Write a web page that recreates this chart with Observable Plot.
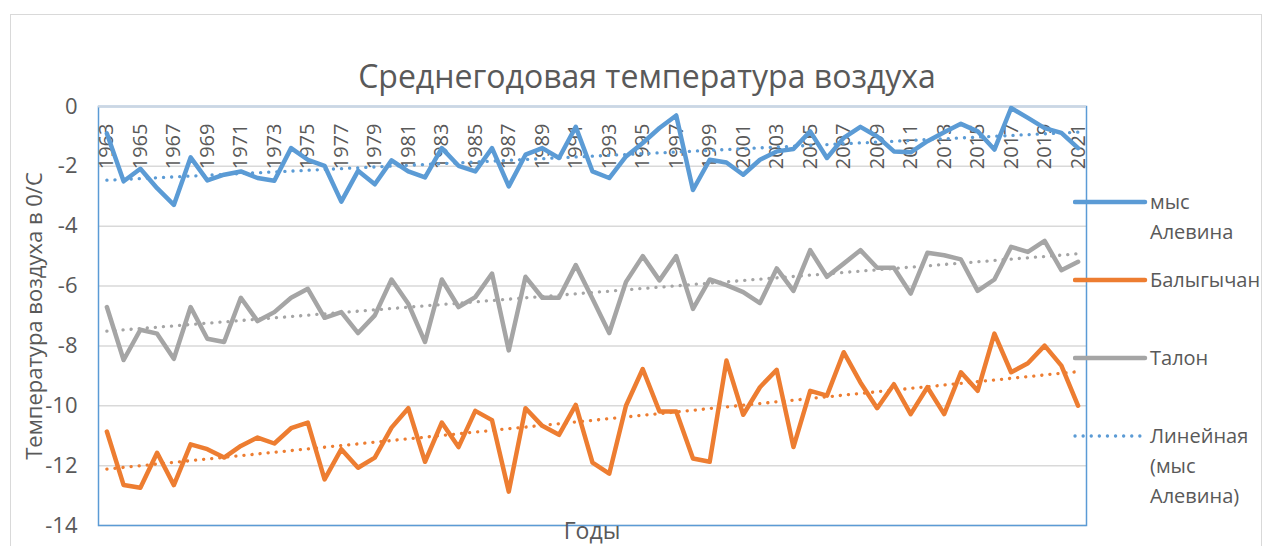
<!DOCTYPE html>
<html>
<head>
<meta charset="utf-8">
<script src="https://cdn.jsdelivr.net/npm/d3@7"></script>
<script src="https://cdn.jsdelivr.net/npm/@observablehq/plot@0.6"></script>
<style>
  html, body { margin: 0; padding: 0; background: #ffffff; overflow: hidden; }
  #chart { position: relative; width: 1271px; height: 546px; font-family: "Open Sans", sans-serif; color: #595959; }
  #chart svg { position: absolute; left: 0; top: 0; }
  .abs { position: absolute; white-space: nowrap; }
  #border { left: 10px; top: 14px; width: 1252px; height: 600px; border: 1.5px solid #d9d9d9; box-sizing: border-box; pointer-events: none; }
  #title { left: 247px; width: 800px; top: 54px; text-align: center; font-size: 32px; line-height: 44px; }
  #ytitle { left: 33px; top: 316px; transform: translate(-50%, -50%) rotate(-90deg); font-size: 22px; line-height: 30px; }
  #xtitle { left: 592px; top: 530px; transform: translate(-50%, -50%); font-size: 23px; line-height: 24px; }
  #legend { left: 1073px; top: 187px; }
  .item { position: absolute; left: 0; width: 200px; }
  .item svg { position: absolute; left: 0; top: 0; }
  .item .lab { position: absolute; left: 77px; top: 0; font-size: 20px; line-height: 30px; }
</style>
</head>
<body>
<div id="chart">
  <div id="plot"></div>
  <div id="border" class="abs"></div>
  <div id="title" class="abs">Среднегодовая температура воздуха</div>
  <div id="ytitle" class="abs">Температура воздуха в 0/С</div>
  <div id="xtitle" class="abs">Годы</div>
  <div id="legend" class="abs"></div>
</div>
<script>
const years = [1963,1964,1965,1966,1967,1968,1969,1970,1971,1972,1973,1974,1975,1976,1977,1978,1979,1980,
  1981,1982,1983,1984,1985,1986,1987,1988,1989,1990,1991,1992,1993,1994,1995,1996,1997,1998,1999,2000,
  2001,2002,2003,2004,2005,2006,2007,2008,2009,2010,2011,2012,2013,2014,2015,2016,2017,2018,2019,2020,2021];

const alevina = [-0.9,-2.5,-2.08,-2.73,-3.29,-1.7,-2.47,-2.28,-2.17,-2.39,-2.48,-1.39,-1.78,-1.98,-3.18,-2.15,-2.6,-1.8,
  -2.17,-2.37,-1.39,-1.98,-2.17,-1.39,-2.67,-1.61,-1.39,-1.72,-0.68,-2.17,-2.39,-1.67,-1.22,-0.72,-0.3,-2.79,-1.78,-1.87,
  -2.28,-1.78,-1.5,-1.42,-0.83,-1.72,-1.05,-0.68,-1.0,-1.5,-1.53,-1.16,-0.86,-0.58,-0.83,-1.44,-0.05,-0.38,-0.72,-0.88,-1.39];

const balygychan = [-10.86,-12.65,-12.74,-11.57,-12.65,-11.29,-11.45,-11.73,-11.34,-11.06,-11.26,-10.75,-10.56,-12.46,-11.45,-12.07,-11.73,-10.73,
  -10.08,-11.87,-10.56,-11.38,-10.17,-10.48,-12.87,-10.08,-10.67,-10.97,-9.97,-11.9,-12.27,-10.0,-8.77,-10.19,-10.19,-11.76,-11.87,-8.49,
  -10.3,-9.38,-8.8,-11.38,-9.5,-9.66,-8.21,-9.22,-10.08,-9.28,-10.28,-9.38,-10.28,-8.88,-9.5,-7.59,-8.88,-8.58,-7.99,-8.66,-10.0];

const talon = [-6.7,-8.47,-7.46,-7.59,-8.43,-6.7,-7.76,-7.87,-6.39,-7.17,-6.87,-6.39,-6.09,-7.06,-6.87,-7.57,-6.98,-5.78,
  -6.59,-7.87,-5.78,-6.7,-6.37,-5.58,-8.15,-5.69,-6.39,-6.39,-5.3,-6.42,-7.57,-5.86,-5.0,-5.81,-5.0,-6.76,-5.78,-5.97,
  -6.2,-6.57,-5.41,-6.16,-4.8,-5.69,-5.25,-4.8,-5.39,-5.39,-6.25,-4.89,-4.97,-5.11,-6.16,-5.78,-4.69,-4.86,-4.49,-5.47,-5.19];

const seriesNames = ["мыс Алевина", "Балыгычан", "Талон"];
const seriesColors = ["#5B9BD5", "#ED7D31", "#A5A5A5"];
const seriesValues = [alevina, balygychan, talon];
const yTicks = [0, -2, -4, -6, -8, -10, -12, -14];
const yearLabels = years.filter((y, i) => i % 2 === 0);
const legendLabels = [["мыс", "Алевина"], ["Балыгычан"], ["Талон"], ["Линейная", "(мыс", "Алевина)"]];

const rows = [];
seriesNames.forEach((name, s) => {
  years.forEach((yr, i) => rows.push({ series: name, year: yr, value: seriesValues[s][i] }));
});

const plot = Plot.plot({
  width: 1271,
  height: 546,
  marginLeft: 98,
  marginRight: 185,
  marginTop: 106,
  marginBottom: 21,
  style: { fontFamily: "Open Sans, sans-serif", color: "#595959", background: "transparent" },
  x: { type: "point", domain: years, padding: 0.5, axis: null },
  y: { domain: [-14, 0], axis: null },
  color: { domain: seriesNames, range: seriesColors },
  marks: [
    Plot.gridY(yTicks, { stroke: "#d9d9d9", strokeOpacity: 1, strokeWidth: 1.5 }),
    Plot.frame({ stroke: "#5B9BD5", strokeWidth: 1.5 }),
    Plot.ruleY([0], { stroke: "#ccd6e2", strokeWidth: 2 }),
    Plot.axisY(yTicks, { label: null, tickSize: 0, tickPadding: 21, fontSize: 22, fill: "#595959", tickFormat: d => String(d) }),
    Plot.text(yearLabels, { x: d => d, y: () => 0, text: d => String(d), rotate: -90, textAnchor: "end", lineAnchor: "middle", dy: 17, fontSize: 20, fill: "#595959" }),
    Plot.line(rows, { x: "year", y: "value", z: "series", stroke: "series", strokeWidth: 4.5, strokeLinejoin: "round", strokeLinecap: "round" }),
    Plot.linearRegressionY(rows, { x: "year", y: "value", z: "series", stroke: "series", ci: 0, strokeWidth: 3.3, strokeDasharray: "0.1,8", strokeLinecap: "round" })
  ]
});
document.getElementById("plot").appendChild(plot);

// legend
const legend = document.getElementById("legend");
const legendEntries = [
  { color: seriesColors[0], dashed: false, lines: legendLabels[0] },
  { color: seriesColors[1], dashed: false, lines: legendLabels[1] },
  { color: seriesColors[2], dashed: false, lines: legendLabels[2] },
  { color: seriesColors[0], dashed: true, lines: legendLabels[3] }
];
legendEntries.forEach((e, k) => {
  const item = document.createElement("div");
  item.className = "item";
  item.style.top = (k * 78) + "px";
  const svg = d3.create("svg").attr("width", 76).attr("height", 30);
  svg.append("line")
    .attr("x1", 2).attr("x2", 72).attr("y1", 15).attr("y2", 15)
    .attr("stroke", e.color)
    .attr("stroke-width", e.dashed ? 3.3 : 4.5)
    .attr("stroke-linecap", "round")
    .attr("stroke-dasharray", e.dashed ? "0.1,8" : null);
  item.appendChild(svg.node());
  const lab = document.createElement("div");
  lab.className = "lab";
  lab.innerHTML = e.lines.join("<br>");
  item.appendChild(lab);
  legend.appendChild(item);
});
</script>
</body>
</html>
